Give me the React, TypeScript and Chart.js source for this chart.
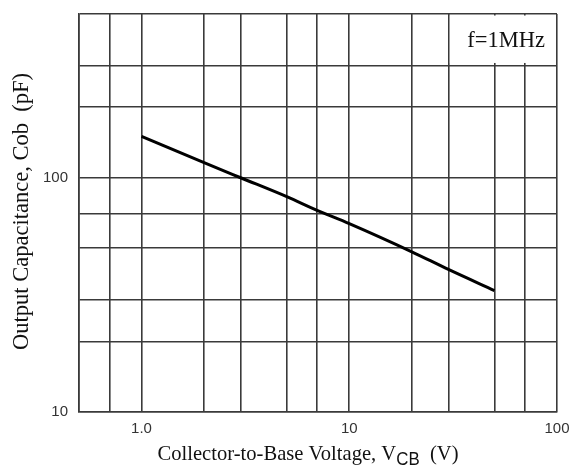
import React, { useEffect, useRef } from "react";
import { Chart, registerables } from "chart.js";

Chart.register(...registerables);

// Data (log-log)
const vcb = [1, 2, 3, 5, 7, 10, 20, 30, 50];
const cob = [150, 116, 100, 83, 72.6, 63.7, 48.3, 40.6, 33];

// Grid / tick values
const xGrid = [0.5, 0.7, 1, 2, 3, 5, 7, 10, 20, 30, 50, 70, 100];
const xTickValues = [1, 10, 100];
const xTickLabels = ["1.0", "10", "100"];
const yGrid = [10, 20, 30, 50, 70, 100, 200, 300, 500];
const yTickValues = [10, 100];
const yTickLabels = ["10", "100"];

const noteText = "f=1MHz";
const yTitle = "Output Capacitance, Cob  (pF)";
const xTitleMain = "Collector-to-Base Voltage, V";
const xTitleSub = "CB";
const xTitleTail = "  (V)";

const GRID = "#3a3a3a";
const SERIF = '"Liberation Serif", "Times New Roman", serif';
const SANS = '"Liberation Sans", Arial, sans-serif';

const annotPlugin = {
  id: "annot",
  beforeDatasetsDraw(chart: any) {
    const { ctx, scales } = chart;
    const x = scales.x;
    const y = scales.y;
    const x0 = x.getPixelForValue(30);
    const x1 = x.getPixelForValue(100);
    const y0 = y.getPixelForValue(500);
    const y1 = y.getPixelForValue(300);
    ctx.save();
    ctx.fillStyle = "#ffffff";
    ctx.fillRect(x0 + 1.5, y0 + 1.5, x1 - x0 - 3, y1 - y0 - 4.5);
    ctx.fillStyle = "#111";
    ctx.font = `22.5px ${SERIF}`;
    ctx.textAlign = "right";
    ctx.textBaseline = "alphabetic";
    ctx.fillText(noteText, x1 - 12, y0 + 33);
    ctx.restore();
  },
  afterDraw(chart: any) {
    const { ctx } = chart;
    const area = chart.chartArea;
    ctx.save();
    ctx.fillStyle = "#111";
    ctx.textBaseline = "alphabetic";
    ctx.textAlign = "left";

    // X axis title with subscript, slightly condensed like the reference
    const mainFont = `22px ${SERIF}`;
    const subFont = `18px ${SANS}`;
    ctx.font = mainFont;
    const wMain = ctx.measureText(xTitleMain).width;
    const wTail = ctx.measureText(xTitleTail).width;
    ctx.font = subFont;
    const wSub = ctx.measureText(xTitleSub).width;
    const total = wMain + wSub + wTail;
    const targetW = 301;
    const k = targetW / total;
    const cx = (area.left + area.right) / 2 - 10;
    const base = area.bottom + 48;
    ctx.save();
    ctx.translate(cx - targetW / 2, base);
    ctx.scale(k, 1);
    let sx = 0;
    ctx.font = mainFont;
    ctx.fillText(xTitleMain, sx, 0);
    sx += wMain;
    ctx.font = subFont;
    ctx.fillText(xTitleSub, sx, 5);
    sx += wSub;
    ctx.font = mainFont;
    ctx.fillText(xTitleTail, sx, 0);
    ctx.restore();

    // Y axis title, rotated
    const yFont = `23px ${SERIF}`;
    ctx.font = yFont;
    const wy = ctx.measureText(yTitle).width;
    const targetY = 277;
    const ky = targetY / wy;
    const cy = (area.top + area.bottom) / 2 - 1.5;
    ctx.save();
    ctx.translate(28, cy);
    ctx.rotate(-Math.PI / 2);
    ctx.scale(ky, 1);
    ctx.textAlign = "center";
    ctx.fillText(yTitle, 0, 0);
    ctx.restore();

    ctx.restore();
  },
};

export default function App() {
  const ref = useRef<HTMLCanvasElement | null>(null);

  useEffect(() => {
    if (!ref.current) return;
    const chart = new Chart(ref.current, {
      type: "line",
      data: {
        datasets: [
          {
            data: vcb.map((v, i) => ({ x: v, y: cob[i] })),
            borderColor: "#000",
            borderWidth: 3,
            pointRadius: 0,
            cubicInterpolationMode: "monotone",
            fill: false,
          },
        ],
      },
      options: {
        animation: false,
        responsive: false,
        devicePixelRatio: 1,
        layout: { padding: { left: 0, top: 14, right: 14, bottom: 0 } },
        plugins: {
          legend: { display: false },
          tooltip: { enabled: false },
        },
        scales: {
          x: {
            type: "logarithmic",
            min: 0.5,
            max: 100,
            afterBuildTicks: (s: any) => {
              s.ticks = xGrid.map((v) => ({ value: v }));
            },
            afterFit: (s: any) => {
              s.height = 55;
              s.paddingLeft = 0;
              s.paddingRight = 0;
              s.paddingTop = 0;
              s.paddingBottom = 0;
            },
            ticks: {
              autoSkip: false,
              maxRotation: 0,
              padding: 8,
              color: "#333",
              font: { family: SANS, size: 15 },
              callback: (v: any) => {
                const i = xTickValues.indexOf(Number(v));
                return i >= 0 ? xTickLabels[i] : "";
              },
            },
            grid: { color: GRID, lineWidth: 1.6, drawTicks: false },
            border: { display: true, color: GRID, width: 1.6 },
          },
          y: {
            type: "logarithmic",
            min: 10,
            max: 500,
            afterBuildTicks: (s: any) => {
              s.ticks = yGrid.map((v) => ({ value: v }));
            },
            afterFit: (s: any) => {
              s.width = 79;
              s.paddingLeft = 0;
              s.paddingRight = 0;
              s.paddingTop = 0;
              s.paddingBottom = 0;
            },
            ticks: {
              autoSkip: false,
              padding: 11,
              color: "#333",
              font: { family: SANS, size: 15 },
              callback: (v: any) => {
                const i = yTickValues.indexOf(Number(v));
                return i >= 0 ? yTickLabels[i] : "";
              },
            },
            grid: { color: GRID, lineWidth: 1.6, drawTicks: false },
            border: { display: true, color: GRID, width: 1.6 },
          },
        },
      },
      plugins: [annotPlugin],
    } as any);
    return () => chart.destroy();
  }, []);

  return (
    <div style={{ position: "absolute", left: 0, top: 0, width: 571, height: 467, background: "#fff" }}>
      <canvas ref={ref} width={571} height={467} />
    </div>
  );
}
